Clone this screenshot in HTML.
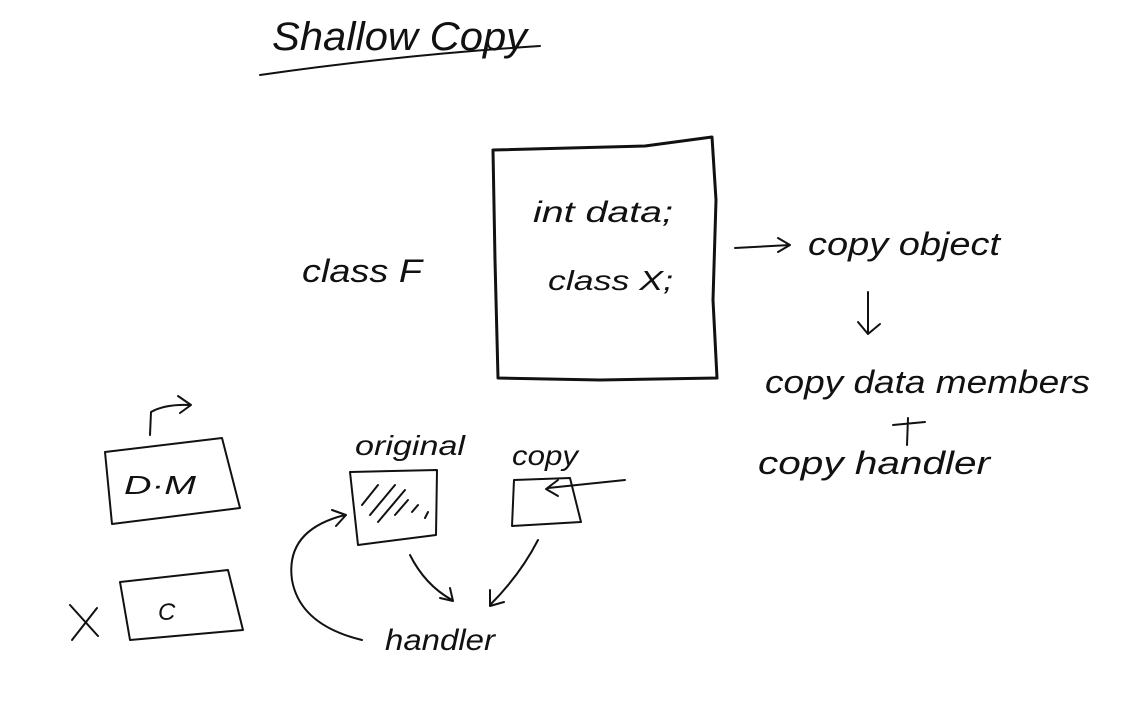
<!DOCTYPE html>
<html><head><meta charset="utf-8"><style>
html,body{margin:0;padding:0;background:#fff;}
svg{display:block}
text{font-family:"Liberation Sans",sans-serif;font-style:italic;fill:#111;}
</style></head><body>
<svg width="1121" height="717" viewBox="0 0 1121 717" xmlns="http://www.w3.org/2000/svg">
<g fill="none" stroke="#111" stroke-width="2" stroke-linecap="round" stroke-linejoin="round">
<path d="M260 75 Q400 55 540 46"/>
<path d="M493 150 L645 146 L712 137 L716 200 L713 300 L717 378 L600 380 L498 378 L495 260 Z" stroke-width="3"/>
<path d="M735 248 L790 245 M778 238 L790 245 L778 252"/>
<path d="M868 292 L868 333 M858 322 L868 334 L880 324"/>
<path d="M893 425 L925 422 M908 418 L907 445"/>
<path d="M105 452 L222 438 L240 508 L112 524 Z"/>
<path d="M150 435 L151 412 Q165 404 190 405 M178 396 L191 405 L180 413"/>
<path d="M120 582 L228 570 L243 630 L130 640 Z"/>
<path d="M70 605 L98 636 M97 608 L72 640"/>
<path d="M350 472 L437 470 L436 535 L358 545 Z"/>
<path d="M362 505 L378 485 M370 515 L395 485 M378 522 L405 490 M395 515 L408 500 M412 512 L418 505 M425 518 L428 512"/>
<path d="M514 480 L570 478 L581 522 L512 526 Z"/>
<path d="M625 480 L548 488 M558 480 L546 489 L558 496"/>
<path d="M410 555 Q425 585 452 600 M440 598 L453 601 L450 588"/>
<path d="M538 540 Q520 575 490 605 M490 590 L490 606 L504 602"/>
<path d="M362 640 Q300 625 292 580 Q285 530 345 515 M332 510 L346 515 L336 526"/>
</g>
<text x="272" y="50" font-size="40" textLength="255" lengthAdjust="spacingAndGlyphs">Shallow Copy</text>
<text x="533" y="222" font-size="30" textLength="140" lengthAdjust="spacingAndGlyphs">int data;</text>
<text x="548" y="290" font-size="28" textLength="125" lengthAdjust="spacingAndGlyphs">class X;</text>
<text x="302" y="282" font-size="32" textLength="120" lengthAdjust="spacingAndGlyphs">class F</text>
<text x="808" y="255" font-size="32" textLength="192" lengthAdjust="spacingAndGlyphs">copy object</text>
<text x="765" y="393" font-size="32" textLength="325" lengthAdjust="spacingAndGlyphs">copy data members</text>
<text x="758" y="474" font-size="32" textLength="232" lengthAdjust="spacingAndGlyphs">copy handler</text>
<text x="124" y="494" font-size="26" textLength="72" lengthAdjust="spacingAndGlyphs">D·M</text>
<text x="158" y="620" font-size="24">C</text>
<text x="355" y="455" font-size="28" textLength="110" lengthAdjust="spacingAndGlyphs">original</text>
<text x="512" y="465" font-size="28" textLength="66" lengthAdjust="spacingAndGlyphs">copy</text>
<text x="385" y="650" font-size="30" textLength="110" lengthAdjust="spacingAndGlyphs">handler</text>
</svg>
</body></html>
